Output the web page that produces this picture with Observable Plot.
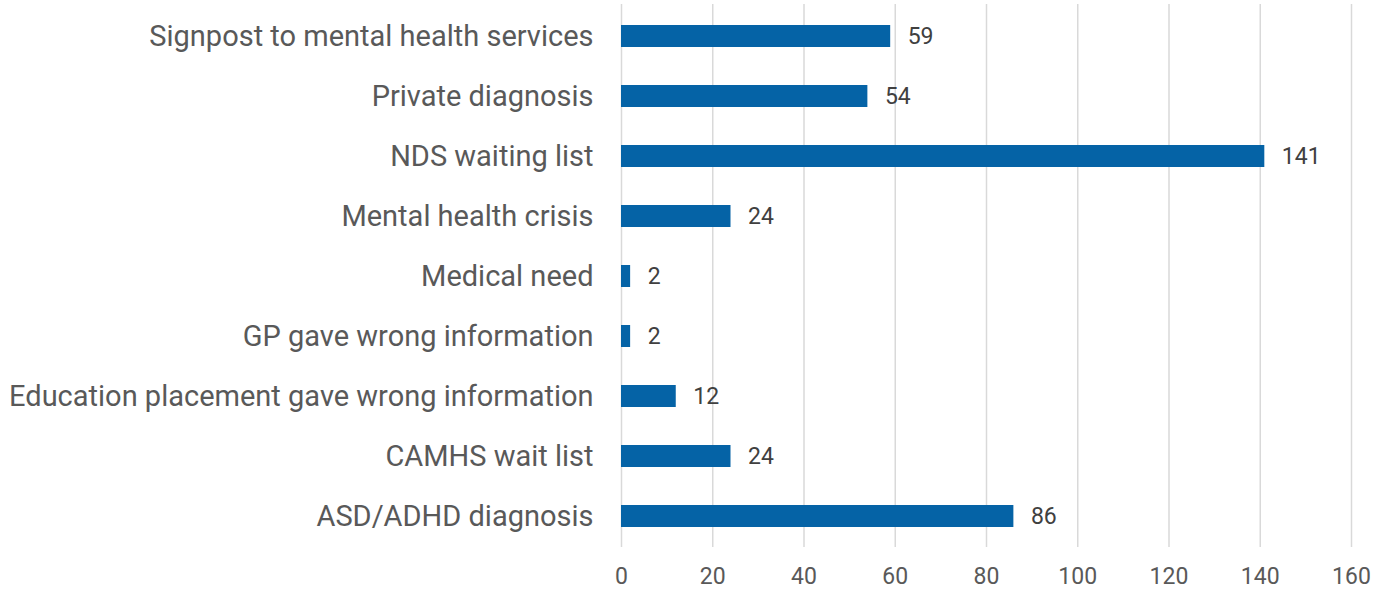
<!DOCTYPE html>
<html><head><meta charset="utf-8">
<script src="https://cdn.jsdelivr.net/npm/d3@7"></script>
<script src="https://cdn.jsdelivr.net/npm/@observablehq/plot@0.6"></script>
<style>body{margin:0;background:#fff;} svg{display:block;}</style>
</head><body><div id="chart"></div>
<script>
const categories = ["Signpost to mental health services","Private diagnosis","NDS waiting list","Mental health crisis","Medical need","GP gave wrong information","Education placement gave wrong information","CAMHS wait list","ASD/ADHD diagnosis"];
const values = [59,54,141,24,2,2,12,24,86];
const xTicks = [0,20,40,60,80,100,120,140,160];
const data = categories.map((c,i)=>({category:c, value:values[i]}));

const chart = Plot.plot({
  width:1385, height:589,
  marginLeft:621, marginRight:34, marginTop:4, marginBottom:42,
  style:{fontFamily:"Roboto, sans-serif", background:"#fff"},
  x:{domain:[0,160], ticks:xTicks, label:null},
  y:{domain:categories, paddingInner:0.635, paddingOuter:0.3175, label:null},
  marks:[
    Plot.gridX(xTicks,{stroke:"#d9d9d9", strokeOpacity:1, strokeWidth:1.5}),
    Plot.barX(data,{x:"value", y:"category", fill:"#0563a6"}),
    Plot.text(data,{x:"value", y:"category", text:d=>String(d.value), dx:17, textAnchor:"start", fontSize:23, fill:"#404040"}),
    Plot.axisY({tickSize:0, tickPadding:28, fontSize:29, color:"#595959", label:null}),
    Plot.axisX(xTicks,{tickSize:0, tickPadding:20, fontSize:23, color:"#595959", label:null})
  ]
});
document.getElementById("chart").appendChild(chart);
</script></body></html>
